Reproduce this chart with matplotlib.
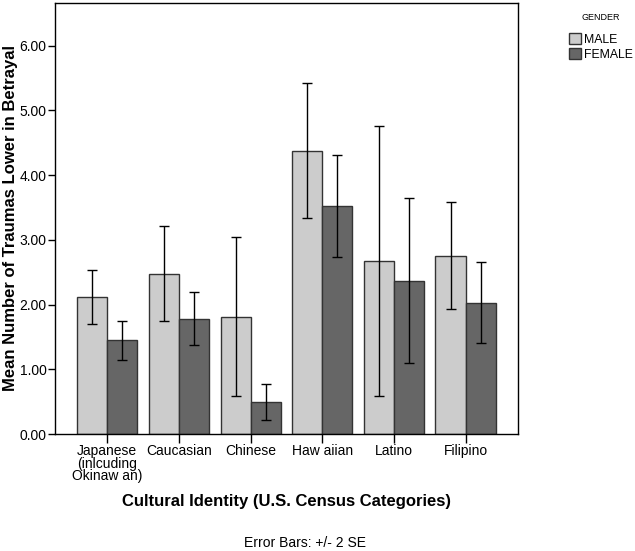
import numpy as np
import matplotlib
matplotlib.use("Agg")
import matplotlib.pyplot as plt
from matplotlib.patches import Patch

plt.rcParams['font.family'] = ['Liberation Sans', 'DejaVu Sans']

categories = ["Japanese\n(inlcuding\nOkinaw an)", "Caucasian", "Chinese",
              "Haw aiian", "Latino", "Filipino"]
male_mean = [2.12, 2.47, 1.81, 4.38, 2.67, 2.75]
male_low = [1.70, 1.75, 0.59, 3.34, 0.58, 1.93]
male_high = [2.54, 3.21, 3.04, 5.43, 4.76, 3.58]
female_mean = [1.45, 1.78, 0.50, 3.53, 2.37, 2.03]
female_low = [1.14, 1.37, 0.22, 2.74, 1.10, 1.41]
female_high = [1.75, 2.20, 0.78, 4.31, 3.65, 2.66]

male_col = '#cccccc'
female_col = '#666666'
edge_col = '#333333'

fig = plt.figure(figsize=(6.35, 5.51), dpi=100)
ax = fig.add_axes([0.0866, 0.2123, 0.729, 0.7823])

x = np.arange(len(categories))
w = 0.42

ax.bar(x - w / 2, male_mean, w, color=male_col, edgecolor=edge_col, linewidth=1)
ax.bar(x + w / 2, female_mean, w, color=female_col, edgecolor=edge_col, linewidth=1)

for xs, m, lo, hi in [(x - w / 2, male_mean, male_low, male_high),
                      (x + w / 2, female_mean, female_low, female_high)]:
    m = np.array(m)
    yerr = [m - np.array(lo), np.array(hi) - m]
    ax.errorbar(xs, m, yerr=yerr, fmt='none', ecolor='black', elinewidth=1,
                capsize=3.5, capthick=1)

ax.set_xlim(-0.73, 5.73)
ax.set_ylim(0, 6.66)
ax.set_yticks([0, 1, 2, 3, 4, 5, 6])
ax.set_yticklabels(['0.00', '1.00', '2.00', '3.00', '4.00', '5.00', '6.00'], fontsize=10)
ax.set_xticks(x)
ax.set_xticklabels(categories, fontsize=10, linespacing=0.85)
ax.tick_params(axis='x', length=6.5, width=1, color='black', pad=1)
ax.tick_params(axis='y', length=5, width=1, color='black', pad=1)
for s in ax.spines.values():
    s.set_linewidth(1)
    s.set_color('black')

ax.set_ylabel('Mean Number of Traumas Lower in Betrayal', fontsize=12,
              fontweight='bold', labelpad=1)
ax.set_xlabel('Cultural Identity (U.S. Census Categories)', fontsize=12,
              fontweight='bold', labelpad=8)

fig.text(0.48, 1 - 543 / 551, 'Error Bars: +/- 2 SE', ha='center', va='center',
         fontsize=10)

# legend, with its title set apart as in the original
fig.text(601 / 635, 1 - 18 / 551, 'GENDER', ha='center', va='center', fontsize=6.5)
handles = [Patch(facecolor=male_col, edgecolor=edge_col, label='MALE'),
           Patch(facecolor=female_col, edgecolor=edge_col, label='FEMALE')]
leg = fig.legend(handles=handles, loc='upper left',
                 bbox_to_anchor=(0.896, 0.940), frameon=False, fontsize=8.8,
                 handlelength=1.0, handleheight=1.0,
                 handletextpad=0.2, labelspacing=0.2, borderpad=0,
                 borderaxespad=0)

fig.savefig('out.png', dpi=100)
